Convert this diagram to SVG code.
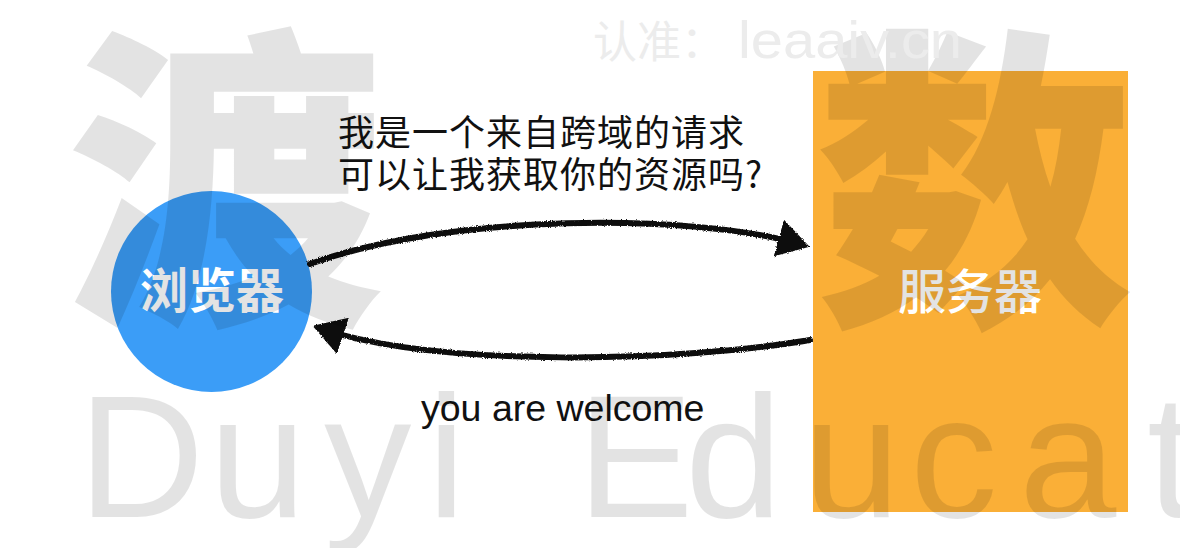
<svg xmlns="http://www.w3.org/2000/svg" width="1180" height="548" viewBox="0 0 1180 548">
  <style>
    .cjk { font-family: "Noto Sans CJK SC", "Noto Sans", sans-serif; }
    .lat { font-family: "Liberation Sans", Arial, sans-serif; }
    .label { fill: #111111; }
    .nodetext { fill: #ffffff; font-size: 48px; text-anchor: middle; }
    .wire { fill: none; stroke: #111111; stroke-width: 6; stroke-linecap: round; }
    .wm { fill: #000000; fill-opacity: 0.11; }
  </style>
  <defs>
    <marker id="head" markerUnits="userSpaceOnUse" viewBox="0 0 32 38" markerWidth="32" markerHeight="38" refX="22" refY="19" orient="auto">
      <path d="M0,0 L32,19 L0,38 z" fill="#111111"/>
    </marker>
    <filter id="rough" x="-10%" y="-30%" width="120%" height="160%">
      <feTurbulence type="fractalNoise" baseFrequency="0.8" numOctaves="2" seed="4" result="n"/>
      <feDisplacementMap in="SourceGraphic" in2="n" scale="3" xChannelSelector="R" yChannelSelector="G"/>
    </filter>
  </defs>

  <rect x="0" y="0" width="1180" height="548" fill="#ffffff"/>

  <g id="browser">
    <circle cx="211.5" cy="291.5" r="100.5" fill="#3B9DF7"/>
    <text class="cjk nodetext" x="212" y="308" font-weight="700">浏览器</text>
  </g>

  <g id="server">
    <rect x="813" y="71" width="315" height="441" fill="#FAAF37"/>
    <text class="cjk nodetext" x="970" y="309" font-weight="500">服务器</text>
  </g>

  <g id="connectors" filter="url(#rough)">
    <path class="wire" d="M310,264 C450,213 690,213 800,244" marker-end="url(#head)"/>
    <path class="wire" d="M810,340 C680,362 440,368 322,329" marker-end="url(#head)"/>
  </g>

  <g id="labels">
    <text class="cjk label" x="338" y="146" font-size="36" letter-spacing="1">我是一个来自跨域的请求</text>
    <text class="cjk label" x="338" y="188" font-size="36" letter-spacing="1">可以让我获取你的资源吗?</text>
    <text class="lat label" x="421" y="421" font-size="37.5">you are welcome</text>
  </g>

  <g id="watermark">
    <text class="cjk wm" x="225" y="301" font-size="318" font-weight="900" text-anchor="middle">渡</text>
    <text class="cjk wm" x="975" y="301" font-size="318" font-weight="900" text-anchor="middle">数</text>
    <text class="lat wm" x="78 209 324 427" y="517" font-size="175">Duyi</text>
    <text class="lat wm" x="577 685 803 910 1019 1147" y="517" font-size="175">Educat</text>
    <text class="cjk" x="593" y="58" font-size="44" fill="#ececec">认准：</text>
    <text class="lat" x="738" y="58" font-size="52" fill="#ececec" textLength="224" lengthAdjust="spacingAndGlyphs">leaaiv.cn</text>
  </g>
</svg>
